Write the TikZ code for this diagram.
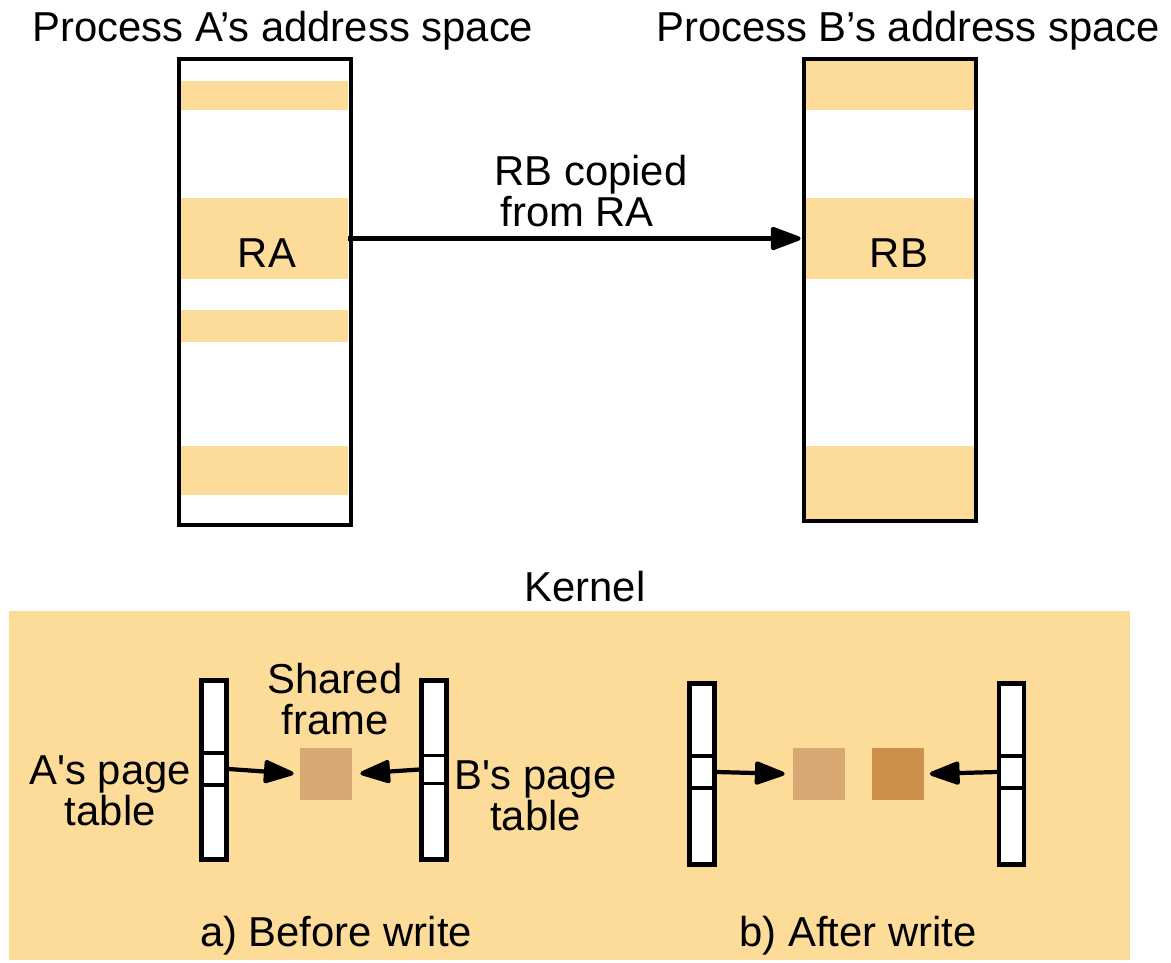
\documentclass[tikz,border=0pt]{standalone}
\usepackage{fontspec}
\setmainfont{Liberation Sans}
\usepackage{tikz}
\usetikzlibrary{positioning,arrows.meta}
\definecolor{stripe}{HTML}{FDDC9A}
\definecolor{frameold}{HTML}{D8A873}
\definecolor{framenew}{HTML}{CC904A}

\begin{document}
\begin{tikzpicture}[x=0.02cm, y=-0.02cm, >={Triangle[length=0.68cm,width=0.48cm,round]},
    font=\fontsize{23.8}{23.5}\selectfont,
    addrspace/.style={draw, line width=2.4pt, minimum width=3.44cm, inner sep=0},
    region/.style={fill=stripe, minimum width=3.36cm, inner sep=0},
    ptable/.style={draw, fill=white, line width=2.4pt, minimum width=0.5cm, minimum height=3.58cm, inner sep=0},
    pentry/.style={draw, line width=2.2pt, minimum width=0.5cm, minimum height=0.64cm, inner sep=0},
    pframe/.style={minimum size=1.04cm, inner sep=0},
    link/.style={->, line width=2.4pt},
    txt/.style={inner sep=0, align=center}]

    \useasboundingbox (0,0) rectangle (1171,963);

    % address spaces
    \node[txt, anchor=base] (titlea) at (283,42) {Process A’s address space};
    \node[txt, anchor=base] (titleb) at (908,42) {Process B’s address space};

    \node[region, minimum height=0.58cm] (a1) at (264,95.5) {};
    \node[region, minimum height=1.62cm] (ra) at (264,238.5) {};
    \node[region, minimum height=0.64cm] (a3) at (264,326) {};
    \node[region, minimum height=0.98cm] (a4) at (264,470.5) {};
    \node[addrspace, minimum height=9.32cm] (pa) at (265,292) {};
    \node[txt, anchor=base] (ratext) at (267,268) {RA};

    \node[region, minimum width=3.38cm, minimum height=1.02cm] (b1) at (889.5,84.5) {};
    \node[region, minimum width=3.38cm, minimum height=1.62cm] (rb) at (889.5,238.5) {};
    \node[region, minimum width=3.38cm, minimum height=1.5cm] (b3) at (889.5,483.5) {};
    \node[addrspace, minimum height=9.24cm] (pb) at (890,290) {};
    \node[txt, anchor=base] (rbtext) at (899,268) {RB};

    \draw[link, shorten >=0.08cm] (ra.east) -- (rb.west)
        node[midway, above=0.18cm, xshift=0.29cm, txt, align=left] (copied) {RB copied\\\hspace{0.12cm}from RA};

    % kernel
    \node[fill=stripe, minimum width=22.42cm, minimum height=6.98cm, inner sep=0] (kernel) at (569.5,785.5) {};
    \node[txt, above=0.16cm of kernel, xshift=0.31cm] (kerneltext) {Kernel};

    % a) before write
    \node[ptable] (ta) at (214,770) {};
    \node[pentry] (ea) at (214,769) {};
    \node[ptable] (tb) at (434,770) {};
    \node[pentry, minimum height=0.56cm] (eb) at (434,769.5) {};
    \node[pframe, fill=frameold] (shared) at (326,774) {};
    \draw[link, shorten >=0.12cm] (ea.east) -- (shared.west);
    \draw[link, shorten >=0.16cm] (eb.west) -- (shared.east);

    \node[txt, left=0.16cm of ta, yshift=-0.42cm] (la) {A\textquotesingle s page\\table};
    \node[txt, right=0.12cm of tb, yshift=-0.52cm] (lb) {B\textquotesingle s page\\table};
    \node[txt, above=0.24cm of shared, xshift=0.18cm] (sharedtext) {Shared\\frame};
    \node[txt, anchor=base] (capa) at (336,946) {a) Before write};

    % b) after write
    \node[ptable, minimum height=3.62cm] (tc) at (702,774) {};
    \node[pentry] (ec) at (702,772) {};
    \node[ptable, minimum height=3.62cm] (td) at (1011.5,774) {};
    \node[pentry] (ed) at (1011.5,772) {};
    \node[pframe, fill=frameold] (oldframe) at (819,774) {};
    \node[pframe, fill=framenew] (newframe) at (897.5,774) {};
    \draw[link, shorten >=0.16cm] (ec.east) -- (oldframe.west);
    \draw[link, shorten >=0.12cm] (ed.west) -- (newframe.east);
    \node[txt, anchor=base] (capb) at (858,946) {b) After write};

\end{tikzpicture}
\end{document}
